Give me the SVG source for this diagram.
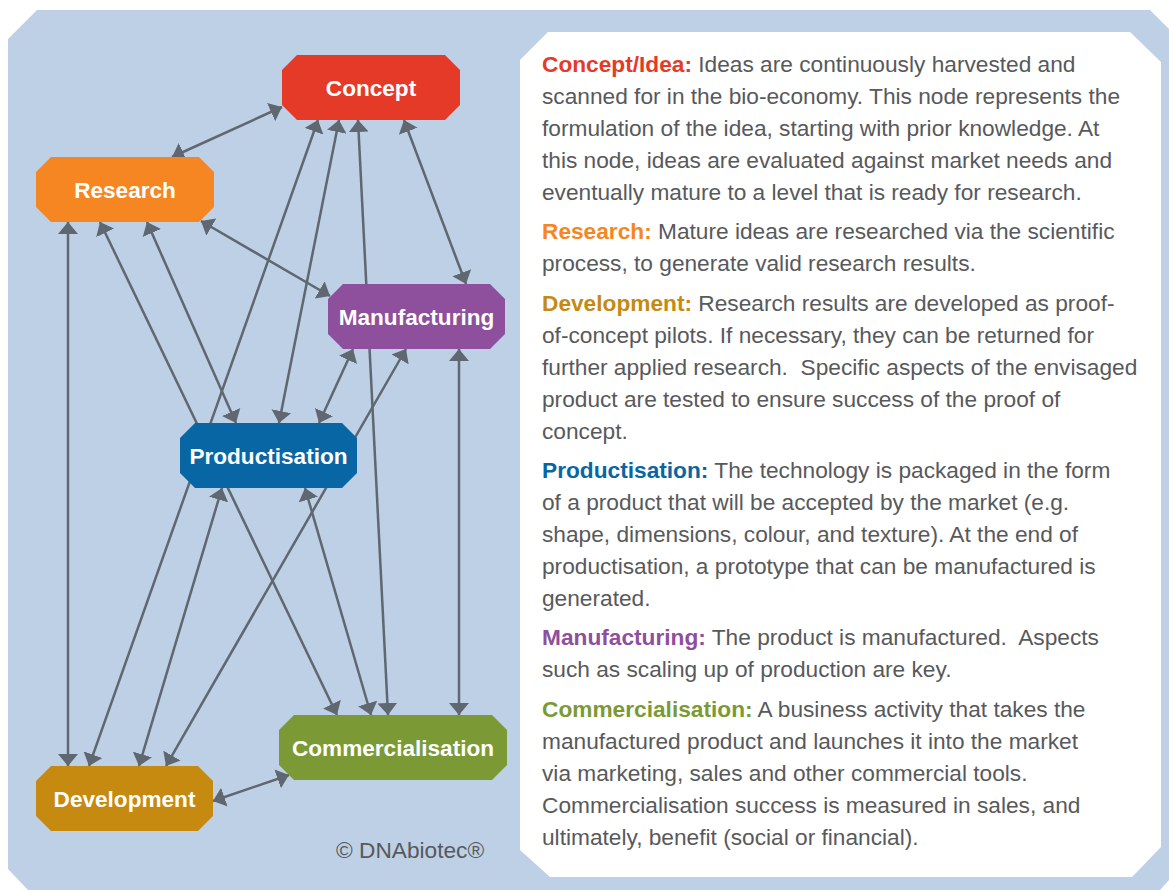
<svg xmlns="http://www.w3.org/2000/svg" width="1169" height="890" viewBox="0 0 1169 890">
<style>
.nl{font-family:"Liberation Sans",Arial,sans-serif;font-weight:bold;font-size:22.6px;fill:#ffffff;text-anchor:middle}
.bt{font-family:"Liberation Sans",Arial,sans-serif;font-size:22.7px;fill:#58595b;white-space:pre}
.h{font-weight:bold}
.cn line{stroke:#5f6770;stroke-width:2.5;marker-start:url(#ah);marker-end:url(#ah)}
</style>
<defs>
<marker id="ah" markerUnits="userSpaceOnUse" viewBox="0 0 12 20" refX="12" refY="10" markerWidth="12" markerHeight="20" orient="auto-start-reverse">
<path d="M0,0 L12,10 L0,20 Z" fill="#5f6770"/>
</marker>
</defs>
<rect width="1169" height="890" fill="#ffffff"/>
<polygon points="37,10 1150,10 1169,29 1169,880 1160,890 28,890 8,869 8,39" fill="#bdd0e6"/>
<polygon points="548,32 1130,32 1161,62 1161,847 1132,877 550,877 520,850 520,60" fill="#ffffff"/>
<g id="connectors" class="cn">
<line x1="282" y1="107" x2="172" y2="157"/>
<line x1="404" y1="120" x2="466" y2="284"/>
<line x1="318" y1="120" x2="89" y2="766"/>
<line x1="339" y1="120" x2="279" y2="423"/>
<line x1="358" y1="120" x2="388" y2="715"/>
<line x1="201" y1="221" x2="330" y2="296"/>
<line x1="68" y1="222" x2="68" y2="766"/>
<line x1="100" y1="222" x2="337" y2="715"/>
<line x1="147" y1="222" x2="236" y2="423"/>
<line x1="353" y1="349" x2="319" y2="423"/>
<line x1="406" y1="349" x2="166" y2="766"/>
<line x1="459" y1="349" x2="459" y2="715"/>
<line x1="222" y1="488" x2="139" y2="766"/>
<line x1="305" y1="488" x2="371" y2="715"/>
<line x1="213" y1="801" x2="289" y2="775"/>
</g>
<g id="concept">
<polygon points="297,55 445,55 460,70 460,105 445,120 297,120 282,105 282,70" fill="#e63a28"/>
<text class="nl" x="371" y="96">Concept</text>
</g>
<g id="research">
<polygon points="51,157 199,157 214,172 214,207 199,222 51,222 36,207 36,172" fill="#f58621"/>
<text class="nl" x="125" y="198">Research</text>
</g>
<g id="manufacturing">
<polygon points="343,284 490,284 505,299 505,334 490,349 343,349 328,334 328,299" fill="#8e4f9d"/>
<text class="nl" x="416.5" y="325">Manufacturing</text>
</g>
<g id="productisation">
<polygon points="195,423 342,423 357,438 357,473 342,488 195,488 180,473 180,438" fill="#0966a5"/>
<text class="nl" x="268.5" y="464">Productisation</text>
</g>
<g id="development">
<polygon points="51,766 198,766 213,781 213,816 198,831 51,831 36,816 36,781" fill="#c68a11"/>
<text class="nl" x="124.5" y="807">Development</text>
</g>
<g id="commercialisation">
<polygon points="294,715 492,715 507,730 507,765 492,780 294,780 279,765 279,730" fill="#7b9a36"/>
<text class="nl" x="393" y="756">Commercialisation</text>
</g>
<text class="bt" x="336" y="858">© DNAbiotec®</text>
<g id="description">
<text class="bt" x="542" y="72"><tspan class="h" fill="#e63a28">Concept/Idea:</tspan> Ideas are continuously harvested and</text>
<text class="bt" x="542" y="104">scanned for in the bio-economy. This node represents the</text>
<text class="bt" x="542" y="136">formulation of the idea, starting with prior knowledge. At</text>
<text class="bt" x="542" y="168">this node, ideas are evaluated against market needs and</text>
<text class="bt" x="542" y="200">eventually mature to a level that is ready for research.</text>
<text class="bt" x="542" y="239"><tspan class="h" fill="#f58621">Research:</tspan> Mature ideas are researched via the scientific</text>
<text class="bt" x="542" y="271">process, to generate valid research results.</text>
<text class="bt" x="542" y="311"><tspan class="h" fill="#c68a11">Development:</tspan> Research results are developed as proof-</text>
<text class="bt" x="542" y="343">of-concept pilots. If necessary, they can be returned for</text>
<text class="bt" x="542" y="375">further applied research.  Specific aspects of the envisaged</text>
<text class="bt" x="542" y="407">product are tested to ensure success of the proof of</text>
<text class="bt" x="542" y="439">concept.</text>
<text class="bt" x="542" y="478"><tspan class="h" fill="#0966a5">Productisation:</tspan> The technology is packaged in the form</text>
<text class="bt" x="542" y="510">of a product that will be accepted by the market (e.g.</text>
<text class="bt" x="542" y="542">shape, dimensions, colour, and texture). At the end of</text>
<text class="bt" x="542" y="574">productisation, a prototype that can be manufactured is</text>
<text class="bt" x="542" y="606">generated.</text>
<text class="bt" x="542" y="645"><tspan class="h" fill="#8e4f9d">Manufacturing:</tspan> The product is manufactured.  Aspects</text>
<text class="bt" x="542" y="677">such as scaling up of production are key.</text>
<text class="bt" x="542" y="717"><tspan class="h" fill="#7b9a36">Commercialisation:</tspan> A business activity that takes the</text>
<text class="bt" x="542" y="749">manufactured product and launches it into the market</text>
<text class="bt" x="542" y="781">via marketing, sales and other commercial tools.</text>
<text class="bt" x="542" y="813">Commercialisation success is measured in sales, and</text>
<text class="bt" x="542" y="845">ultimately, benefit (social or financial).</text>
</g>
</svg>
